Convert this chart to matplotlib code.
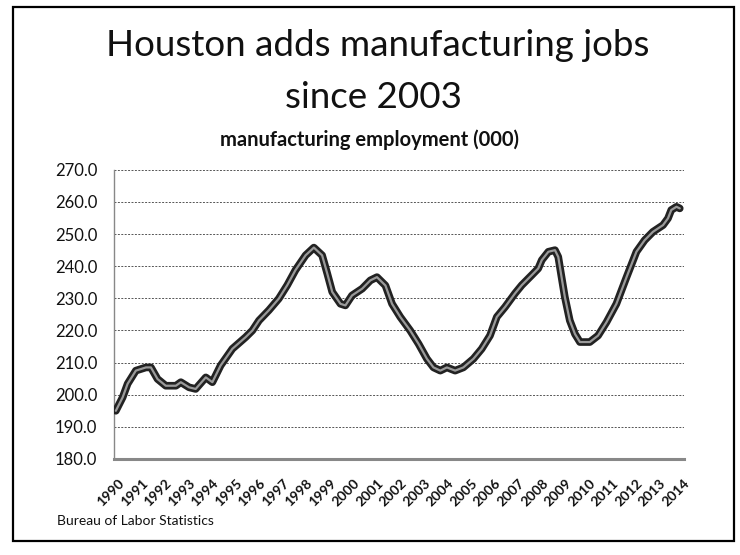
import matplotlib
matplotlib.use("Agg")
import matplotlib.pyplot as plt
from matplotlib.patches import Rectangle
from matplotlib.transforms import ScaledTranslation

plt.rcParams['font.family'] = ['Lato', 'DejaVu Sans']

# decimal year and manufacturing employment (000)
years = [1990.08, 1990.37, 1990.58, 1990.93, 1991.36, 1991.57, 1991.85, 1992.20,
         1992.63, 1992.84, 1993.19, 1993.47, 1993.90, 1994.18, 1994.53, 1995.03,
         1995.59, 1995.88, 1996.16, 1996.58, 1997.00, 1997.36, 1997.71, 1998.14,
         1998.49, 1998.84, 1999.06, 1999.27, 1999.62, 1999.83, 2000.11, 2000.54,
         2000.89, 2001.17, 2001.53, 2001.81, 2002.16, 2002.58, 2002.94, 2003.29,
         2003.57, 2003.86, 2004.14, 2004.49, 2004.84, 2005.27, 2005.62, 2005.97,
         2006.26, 2006.61, 2007.03, 2007.32, 2007.74, 2008.02, 2008.17, 2008.45,
         2008.73, 2008.87, 2009.01, 2009.15, 2009.36, 2009.58, 2009.79, 2010.21,
         2010.56, 2010.92, 2011.34, 2011.77, 2012.19, 2012.54, 2012.89, 2013.32,
         2013.53, 2013.67, 2013.89, 2014.03]
employment = [195.0, 199.2, 203.4, 207.5, 208.5, 208.5, 204.9, 202.8,
              202.8, 203.9, 202.3, 201.8, 205.4, 203.9, 209.1, 214.3,
              217.9, 220.0, 223.1, 226.3, 229.9, 234.1, 238.8, 243.4,
              245.8, 243.4, 237.7, 232.0, 228.3, 227.8, 230.9, 233.0,
              235.6, 236.6, 234.0, 228.3, 224.2, 220.0, 215.8, 211.2,
              208.5, 207.5, 208.5, 207.5, 208.5, 211.2, 214.3, 218.4,
              224.2, 227.3, 231.5, 234.1, 237.2, 239.3, 241.9, 244.5,
              245.0, 242.9, 236.6, 230.4, 223.1, 218.9, 216.4, 216.4,
              218.4, 222.6, 228.3, 236.6, 244.5, 248.1, 250.7, 252.8,
              254.9, 257.5, 258.5, 258.0]
tick_years = list(range(1990, 2015))
tick_labels = [str(y) for y in tick_years]
y_ticks = [180, 190, 200, 210, 220, 230, 240, 250, 260, 270]

fig = plt.figure(figsize=(7.4, 5.55), dpi=100)
fig.patches.append(Rectangle((0.017, 0.025), 0.975, 0.962, transform=fig.transFigure,
                             fill=False, edgecolor='black', linewidth=1.6))

ax = fig.add_axes([0.154, 0.173, 0.77, 0.521])
ax.plot(years, employment, color='#222222', linewidth=5.5, solid_capstyle='round',
        solid_joinstyle='round', zorder=3)
ax.plot(years, employment, color='#9a9a9a', linewidth=1.6, solid_capstyle='round',
        solid_joinstyle='round', zorder=4)

ax.set_xlim(1990, 2014.2)
ax.set_ylim(180, 270)
ax.set_yticks(y_ticks)
ax.set_yticklabels([f"{v:.1f}" for v in y_ticks], fontsize=12, color='#111111')
ax.set_xticks(tick_years)
ax.set_xticklabels(tick_labels, rotation=45, ha='right', va='top',
                   rotation_mode='anchor', fontsize=10, fontweight='bold',
                   color='#111111')
ax.tick_params(axis='y', length=0, pad=12)
ax.tick_params(axis='x', length=0, pad=13)
shift = ScaledTranslation(4 / 100, 0, fig.dpi_scale_trans)
for lbl in ax.get_xticklabels():
    lbl.set_transform(lbl.get_transform() + shift)

ax.grid(axis='y', color='#555555', linestyle=(0, (2, 1.5)), linewidth=0.7)
ax.set_axisbelow(True)
for s in ['top', 'right']:
    ax.spines[s].set_visible(False)
ax.spines['left'].set_color('#888888')
ax.spines['left'].set_linestyle((0, (1, 1)))
ax.spines['left'].set_linewidth(1.0)
ax.spines['bottom'].set_color('#888888')
ax.spines['bottom'].set_linewidth(2.2)

fig.text(0.51, 0.918, "Houston adds manufacturing jobs", ha='center', va='center',
         fontsize=26.5, color='#111111')
fig.text(0.505, 0.825, "since 2003", ha='center', va='center',
         fontsize=26.5, color='#111111')
fig.text(0.5, 0.748, "manufacturing employment (000)", ha='center', va='center',
         fontsize=14.5, fontweight='bold', color='#111111')
fig.text(0.077, 0.062, "Bureau of Labor Statistics", ha='left', va='center',
         fontsize=10, color='#111111')

fig.savefig("out.png", dpi=100)
